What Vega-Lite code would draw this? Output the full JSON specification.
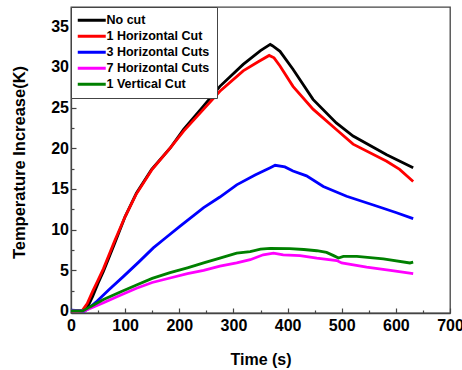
{
  "$schema": "https://vega.github.io/schema/vega-lite/v6.json",
  "width": 379,
  "height": 306,
  "autosize": "none",
  "padding": {"left": 71, "top": 7, "right": 12, "bottom": 57},
  "background": "white",
  "config": {
    "font": "Liberation Sans",
    "view": {"stroke": "#444", "strokeWidth": 1.3},
    "axis": {
      "domainColor": "#444", "domainWidth": 1.3,
      "tickColor": "#444", "tickWidth": 1.2,
      "labelFont": "Liberation Sans", "labelFontSize": 16, "labelFontWeight": "bold", "labelColor": "black",
      "titleFont": "Liberation Sans", "titleFontSize": 16, "titleFontWeight": "bold", "titleColor": "black",
      "grid": false
    },
    "legend": {
      "orient": "top-left", "offset": 0, "padding": 7,
      "strokeColor": "#444", "fillColor": "white", "strokeWidth": 1,
      "symbolType": "M-4,0H4", "symbolStrokeWidth": 3, "symbolSize": 49, "symbolOffset": 7.5,
      "labelFont": "Liberation Sans", "labelFontSize": 12.5, "labelFontWeight": "bold", "labelColor": "black",
      "labelOffset": 8.5, "rowPadding": 3
    }
  },
  "data": {"values": [
    {"s":"No cut","t":0,"T":0},{"s":"No cut","t":25,"T":0},{"s":"No cut","t":30,"T":0.4},{"s":"No cut","t":40,"T":1.8},{"s":"No cut","t":50,"T":3.4},{"s":"No cut","t":60,"T":4.9},{"s":"No cut","t":80,"T":8.2},{"s":"No cut","t":100,"T":11.6},{"s":"No cut","t":121,"T":14.5},{"s":"No cut","t":149,"T":17.4},{"s":"No cut","t":183,"T":20.0},{"s":"No cut","t":208,"T":22.3},{"s":"No cut","t":245,"T":25.2},{"s":"No cut","t":275,"T":27.6},{"s":"No cut","t":318,"T":30.3},{"s":"No cut","t":350,"T":32.0},{"s":"No cut","t":368,"T":32.75},{"s":"No cut","t":372,"T":32.6},{"s":"No cut","t":386,"T":31.9},{"s":"No cut","t":410,"T":29.7},{"s":"No cut","t":447,"T":26.0},{"s":"No cut","t":490,"T":23.1},{"s":"No cut","t":521,"T":21.5},{"s":"No cut","t":583,"T":19.2},{"s":"No cut","t":632,"T":17.6},
    {"s":"1 Horizontal Cut","t":0,"T":0},{"s":"1 Horizontal Cut","t":20,"T":0},{"s":"1 Horizontal Cut","t":30,"T":0.9},{"s":"1 Horizontal Cut","t":40,"T":2.4},{"s":"1 Horizontal Cut","t":50,"T":3.8},{"s":"1 Horizontal Cut","t":60,"T":5.2},{"s":"1 Horizontal Cut","t":80,"T":8.5},{"s":"1 Horizontal Cut","t":100,"T":11.6},{"s":"1 Horizontal Cut","t":120,"T":14.3},{"s":"1 Horizontal Cut","t":150,"T":17.4},{"s":"1 Horizontal Cut","t":183,"T":20.0},{"s":"1 Horizontal Cut","t":208,"T":22.1},{"s":"1 Horizontal Cut","t":245,"T":24.8},{"s":"1 Horizontal Cut","t":275,"T":27.0},{"s":"1 Horizontal Cut","t":318,"T":29.5},{"s":"1 Horizontal Cut","t":345,"T":30.6},{"s":"1 Horizontal Cut","t":366,"T":31.4},{"s":"1 Horizontal Cut","t":375,"T":31.1},{"s":"1 Horizontal Cut","t":386,"T":30.1},{"s":"1 Horizontal Cut","t":410,"T":27.6},{"s":"1 Horizontal Cut","t":447,"T":24.8},{"s":"1 Horizontal Cut","t":490,"T":22.3},{"s":"1 Horizontal Cut","t":521,"T":20.5},{"s":"1 Horizontal Cut","t":583,"T":18.4},{"s":"1 Horizontal Cut","t":607,"T":17.4},{"s":"1 Horizontal Cut","t":632,"T":15.9},
    {"s":"3 Horizontal Cuts","t":0,"T":0.1},{"s":"3 Horizontal Cuts","t":25,"T":0},{"s":"3 Horizontal Cuts","t":32,"T":0.3},{"s":"3 Horizontal Cuts","t":48,"T":1.2},{"s":"3 Horizontal Cuts","t":70,"T":2.6},{"s":"3 Horizontal Cuts","t":97,"T":4.25},{"s":"3 Horizontal Cuts","t":125,"T":6.0},{"s":"3 Horizontal Cuts","t":152,"T":7.75},{"s":"3 Horizontal Cuts","t":175,"T":9.0},{"s":"3 Horizontal Cuts","t":201,"T":10.4},{"s":"3 Horizontal Cuts","t":245,"T":12.7},{"s":"3 Horizontal Cuts","t":275,"T":14.0},{"s":"3 Horizontal Cuts","t":306,"T":15.5},{"s":"3 Horizontal Cuts","t":340,"T":16.7},{"s":"3 Horizontal Cuts","t":368,"T":17.6},{"s":"3 Horizontal Cuts","t":377,"T":17.9},{"s":"3 Horizontal Cuts","t":395,"T":17.7},{"s":"3 Horizontal Cuts","t":410,"T":17.2},{"s":"3 Horizontal Cuts","t":435,"T":16.6},{"s":"3 Horizontal Cuts","t":466,"T":15.3},{"s":"3 Horizontal Cuts","t":509,"T":14.1},{"s":"3 Horizontal Cuts","t":564,"T":12.9},{"s":"3 Horizontal Cuts","t":600,"T":12.1},{"s":"3 Horizontal Cuts","t":632,"T":11.35},
    {"s":"7 Horizontal Cuts","t":0,"T":0},{"s":"7 Horizontal Cuts","t":25,"T":0},{"s":"7 Horizontal Cuts","t":35,"T":0.3},{"s":"7 Horizontal Cuts","t":60,"T":1.0},{"s":"7 Horizontal Cuts","t":90,"T":1.9},{"s":"7 Horizontal Cuts","t":121,"T":2.8},{"s":"7 Horizontal Cuts","t":150,"T":3.5},{"s":"7 Horizontal Cuts","t":183,"T":4.05},{"s":"7 Horizontal Cuts","t":215,"T":4.6},{"s":"7 Horizontal Cuts","t":245,"T":5.0},{"s":"7 Horizontal Cuts","t":275,"T":5.5},{"s":"7 Horizontal Cuts","t":306,"T":5.9},{"s":"7 Horizontal Cuts","t":331,"T":6.3},{"s":"7 Horizontal Cuts","t":355,"T":6.9},{"s":"7 Horizontal Cuts","t":374,"T":7.1},{"s":"7 Horizontal Cuts","t":392,"T":6.9},{"s":"7 Horizontal Cuts","t":423,"T":6.8},{"s":"7 Horizontal Cuts","t":454,"T":6.5},{"s":"7 Horizontal Cuts","t":491,"T":6.2},{"s":"7 Horizontal Cuts","t":500,"T":5.9},{"s":"7 Horizontal Cuts","t":546,"T":5.4},{"s":"7 Horizontal Cuts","t":590,"T":5.0},{"s":"7 Horizontal Cuts","t":632,"T":4.6},
    {"s":"1 Vertical Cut","t":0,"T":0},{"s":"1 Vertical Cut","t":22,"T":0},{"s":"1 Vertical Cut","t":35,"T":0.5},{"s":"1 Vertical Cut","t":60,"T":1.4},{"s":"1 Vertical Cut","t":90,"T":2.3},{"s":"1 Vertical Cut","t":121,"T":3.2},{"s":"1 Vertical Cut","t":150,"T":4.0},{"s":"1 Vertical Cut","t":183,"T":4.7},{"s":"1 Vertical Cut","t":215,"T":5.3},{"s":"1 Vertical Cut","t":245,"T":5.9},{"s":"1 Vertical Cut","t":275,"T":6.5},{"s":"1 Vertical Cut","t":306,"T":7.1},{"s":"1 Vertical Cut","t":331,"T":7.3},{"s":"1 Vertical Cut","t":350,"T":7.6},{"s":"1 Vertical Cut","t":368,"T":7.7},{"s":"1 Vertical Cut","t":404,"T":7.65},{"s":"1 Vertical Cut","t":430,"T":7.55},{"s":"1 Vertical Cut","t":454,"T":7.4},{"s":"1 Vertical Cut","t":472,"T":7.2},{"s":"1 Vertical Cut","t":485,"T":6.8},{"s":"1 Vertical Cut","t":494,"T":6.5},{"s":"1 Vertical Cut","t":503,"T":6.7},{"s":"1 Vertical Cut","t":528,"T":6.7},{"s":"1 Vertical Cut","t":577,"T":6.4},{"s":"1 Vertical Cut","t":626,"T":5.9},{"s":"1 Vertical Cut","t":632,"T":6.0}
  ]},
  "mark": {"type": "line", "strokeWidth": 2.8, "interpolate": "linear"},
  "encoding": {
    "x": {"field": "t", "type": "quantitative", "title": "Time (s)",
      "scale": {"domain": [0, 700], "nice": false, "zero": false},
      "axis": {"values": [0,50,100,150,200,250,300,350,400,450,500,550,600,650,700],
        "labelExpr": "datum.value % 100 === 0 ? datum.label : ''",
        "tickSize": {"condition": {"test": "datum.value % 100 === 0", "value": -5}, "value": -3},
        "labelPadding": 9, "labelFlush": false,
        "titleX": 189.5, "titleY": 51, "titleBaseline": "alphabetic"}},
    "y": {"field": "T", "type": "quantitative", "title": "Temperature Increase(K)",
      "scale": {"domain": [-0.25, 37.35], "nice": false, "zero": false},
      "axis": {"values": [0,2.5,5,7.5,10,12.5,15,17.5,20,22.5,25,27.5,30,32.5,35],
        "labelExpr": "datum.value % 5 === 0 ? datum.label : ''",
        "tickSize": {"condition": {"test": "datum.value % 5 === 0", "value": -5}, "value": -3},
        "labelPadding": 7.5, "titleFontSize": 16.5,
        "titleX": -46.5, "titleY": 155, "titleBaseline": "alphabetic"}},
    "color": {"field": "s", "type": "nominal", "title": null,
      "scale": {"domain": ["No cut","1 Horizontal Cut","3 Horizontal Cuts","7 Horizontal Cuts","1 Vertical Cut"],
        "range": ["#000000","#FF0000","#0000FF","#FF00FF","#008000"]},
      "sort": null}
  }
}
